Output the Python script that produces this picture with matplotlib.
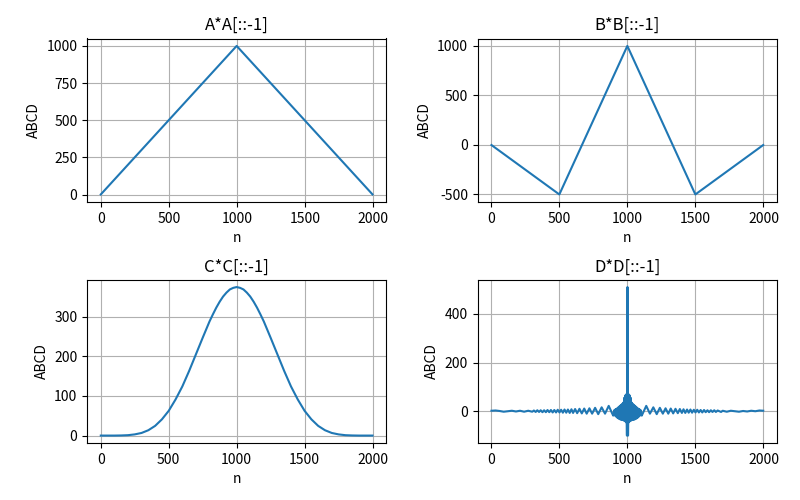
import matplotlib
matplotlib.use('Agg')
import matplotlib.pyplot as plt

plt.rcParams['font.family'] = ['Noto Sans CJK SC', 'DejaVu Sans']
plt.rcParams['axes.unicode_minus'] = False

# A*A[::-1] : triangle
a_n = [0, 999, 1998]
a_v = [1, 1000, 1]

# B*B[::-1] : zig-zag
b_n = [0, 499, 999, 1499, 1998]
b_v = [-1, -500, 1000, -500, -1]

# C*C[::-1] : bell shaped curve
c_n = [0, 50, 100, 150, 200, 250, 300, 350, 400, 450, 500, 550, 600, 650,
       700, 750, 800, 825, 850, 875, 900, 925, 950, 975, 1000,
       1025, 1050, 1075, 1100, 1125, 1150, 1175, 1200, 1250, 1300, 1350,
       1400, 1450, 1500, 1550, 1600, 1650, 1700, 1750, 1800, 1850, 1900,
       1950, 2000]
c_v = [0, 0, 0, 0.3, 1, 3, 6.6, 13.5, 24.5, 41, 62.5, 91, 124, 163,
       205, 247, 288, 306, 323, 338, 351, 361, 369, 373, 375,
       373, 369, 361, 351, 338, 323, 306, 288, 247, 205, 163,
       124, 91, 62.5, 41, 24.5, 13.5, 6.6, 3, 1, 0.3, 0,
       0, 0]

# D*D[::-1] : spike with ringing
d_n = [0, 30, 60, 90, 120, 150, 180, 210, 240, 270, 300,
       312, 325, 337, 350, 362, 375, 387, 400, 412, 425, 437, 450, 462, 475,
       487, 500, 512, 525, 537, 550, 562, 575, 588, 600,
       615, 630, 647, 664, 682, 700, 720, 740, 762, 785, 810, 835, 862, 895,
       900, 904, 908, 912, 916, 920, 924, 928, 932, 936, 940, 944, 948, 952,
       956, 960, 964, 968, 972, 976, 980, 984, 988, 992, 996,
       1000,
       1004, 1008, 1012, 1016, 1020, 1024, 1028, 1032, 1036, 1040, 1044, 1048,
       1052, 1056, 1060, 1064, 1068, 1072, 1076, 1080, 1084, 1088, 1092, 1096,
       1100,
       1105, 1138, 1165, 1190, 1215, 1238, 1260, 1280, 1300, 1318, 1336, 1353,
       1370, 1385, 1400, 1412, 1425, 1438, 1450, 1463, 1475, 1488, 1500, 1513,
       1525, 1538, 1550, 1563, 1575, 1588, 1600, 1613, 1625, 1638, 1650, 1663,
       1688, 1700, 1730, 1760, 1790, 1820, 1850, 1880, 1910, 1940, 1970, 1998]
d_v = [2, 3, 1, -2, 0, 2, -1, 2, -2, 2, -2,
       3, -3, 4, -3, 4, -4, 4, -4, 5, -4, 5, -5, 5, -5,
       6, -5, 6, -6, 7, -6, 7, -7, 8, -7,
       9, -8, 10, -9, 11, -10, 12, -10, 14, -12, 16, -10, 22, -18,
       -10, 5, -18, 8, -22, 10, -26, 14, -29, 18, -32, 22, -34, 26,
       -35, 30, -36, 35, -38, 55, -40, 65, -45, 70, -100,
       510,
       -100, 70, -45, 65, -40, 55, -38, 35, -36, 30, -35, 26,
       -34, 22, -32, 18, -29, 14, -26, 10, -22, 8, -18, 5,
       -10,
       -18, 22, -10, 16, -12, 14, -10, 12, -10, 11, -9, 10,
       -8, 9, -7, 8, -7, 7, -6, 7, -6, 6, -5, 6,
       -5, 5, -5, 5, -4, 4, -4, 4, -3, 4, -3, 3,
       -3, 2, -2, 2, 0, -2, 1, -1, 2, 0, 3, 2]

titles = ['A*A[::-1]', 'B*B[::-1]', 'C*C[::-1]', 'D*D[::-1]']
series = [(a_n, a_v), (b_n, b_v), (c_n, c_v), (d_n, d_v)]

fig, axes = plt.subplots(2, 2, figsize=(8, 5), dpi=100)

for ax, title, (n, v) in zip(axes.flat, titles, series):
    ax.plot(n, v)
    ax.set_title(title)
    ax.set_xlabel('n')
    ax.set_ylabel('ABCD')
    ax.set_xticks([0, 500, 1000, 1500, 2000])
    ax.grid(True)

plt.subplots_adjust(left=0.109, right=0.971, top=0.923, bottom=0.114,
                    wspace=0.307, hspace=0.476)
plt.savefig('out.png', dpi=100)
